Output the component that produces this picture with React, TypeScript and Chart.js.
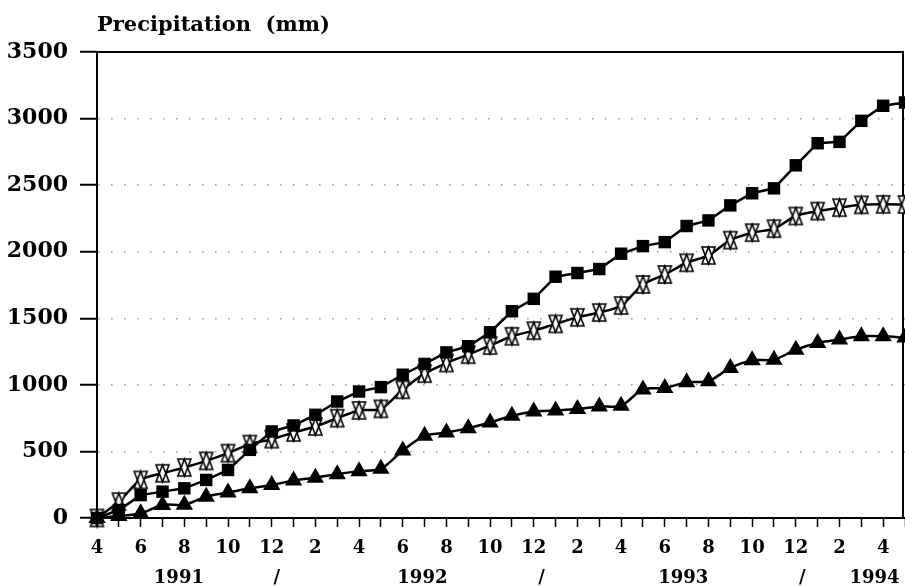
import React, { useEffect, useRef } from "react";
import { Chart, registerables } from "chart.js";

Chart.register(...registerables);

// Month of each observation, April 1991 through May 1994
const monthLabels = [
  "4", "5", "6", "7", "8", "9", "10", "11", "12", "1", "2", "3",
  "4", "5", "6", "7", "8", "9", "10", "11", "12", "1", "2", "3",
  "4", "5", "6", "7", "8", "9", "10", "11", "12", "1", "2", "3",
  "4", "5",
];

// Cumulative precipitation (mm)
const seriesSquares = [
  0, 60, 172, 198, 223, 286, 361, 512, 650, 695, 775, 875,
  950, 983, 1076, 1157, 1244, 1290, 1395, 1553, 1646, 1812, 1840, 1870,
  1985, 2042, 2072, 2193, 2235, 2348, 2439, 2476, 2649, 2815, 2825, 2983,
  3096, 3121,
];
const seriesHourglass = [
  0, 123, 286, 336, 379, 429, 487, 555, 592, 642, 687, 750,
  808, 820, 963, 1084, 1164, 1227, 1295, 1365, 1407, 1458, 1507, 1543,
  1596, 1754, 1829, 1917, 1972, 2087, 2143, 2173, 2268, 2305, 2331, 2352,
  2356, 2355,
];
const seriesTriangles = [
  0, 15, 35, 98, 100, 160, 191, 223, 248, 281, 303, 329,
  352, 370, 507, 617, 642, 675, 717, 768, 800, 808, 818, 838,
  843, 966, 976, 1020, 1028, 1127, 1184, 1189, 1264, 1315, 1340, 1365,
  1365, 1355,
];

const yTicks = [0, 500, 1000, 1500, 2000, 2500, 3000, 3500];
const yearLabels = ["1991", "/", "1992", "/", "1993", "/", "1994"];
const yearLabelPos = [3.75, 8.23, 14.9, 20.36, 26.85, 32.3, 35.6];
const titleText = "Precipitation  (mm)";

const NUM_FONT = "'DejaVu Serif', 'Liberation Serif', serif";

function makeHourglass(w: number, h: number, lw: number): HTMLCanvasElement {
  const c = document.createElement("canvas");
  const pad = Math.ceil(lw);
  c.width = w + pad * 2;
  c.height = h + pad * 2;
  const g = c.getContext("2d")!;
  const x0 = pad;
  const y0 = pad;
  const down = () => {
    g.beginPath();
    g.moveTo(x0, y0);
    g.lineTo(x0 + w, y0);
    g.lineTo(x0 + w / 2, y0 + h);
    g.closePath();
  };
  const up = () => {
    g.beginPath();
    g.moveTo(x0, y0 + h);
    g.lineTo(x0 + w, y0 + h);
    g.lineTo(x0 + w / 2, y0);
    g.closePath();
  };
  g.fillStyle = "#ffffff";
  down();
  g.fill();
  up();
  g.fill();
  g.strokeStyle = "#000000";
  g.lineWidth = lw;
  g.lineJoin = "miter";
  down();
  g.stroke();
  up();
  g.stroke();
  return c;
}

const framePlugin = {
  id: "frameAndText",
  beforeDatasetsDraw(chart: any) {
    const { ctx, chartArea } = chart;
    ctx.save();
    ctx.strokeStyle = "#000";
    ctx.lineWidth = 2;
    ctx.beginPath();
    ctx.moveTo(chartArea.left, chartArea.top);
    ctx.lineTo(chartArea.right - 2, chartArea.top);
    ctx.lineTo(chartArea.right - 2, chartArea.bottom);
    ctx.stroke();
    ctx.restore();
  },
  afterDraw(chart: any) {
    const { ctx, chartArea } = chart;
    const xs = chart.scales.x;
    ctx.save();
    ctx.fillStyle = "#000";
    ctx.font = `bold 21px ${NUM_FONT}`;
    ctx.textAlign = "left";
    ctx.textBaseline = "alphabetic";
    ctx.fillText(titleText, chartArea.left, 31);
    ctx.font = `bold 18px ${NUM_FONT}`;
    ctx.textAlign = "center";
    ctx.textBaseline = "middle";
    yearLabels.forEach((t, i) => {
      ctx.fillText(t, xs.getPixelForValue(yearLabelPos[i]), 578);
    });
    ctx.restore();
  },
};

export default function App() {
  const ref = useRef<HTMLCanvasElement>(null);

  useEffect(() => {
    if (!ref.current) return;
    const hourglass = makeHourglass(13, 17, 1.6);
    const chart = new Chart(ref.current, {
      type: "line",
      data: {
        labels: monthLabels,
        datasets: [
          {
            data: seriesSquares,
            borderColor: "#000",
            backgroundColor: "#000",
            borderWidth: 2.5,
            pointStyle: "rect",
            pointRadius: 8.8,
            pointBorderWidth: 0,
            pointBackgroundColor: "#000",
            tension: 0,
            clip: false as any,
          },
          {
            data: seriesHourglass,
            borderColor: "#000",
            backgroundColor: "#fff",
            borderWidth: 2.5,
            pointStyle: hourglass as any,
            pointRadius: 8,
            tension: 0.3,
            clip: false as any,
          },
          {
            data: seriesTriangles,
            borderColor: "#000",
            backgroundColor: "#000",
            borderWidth: 2.5,
            pointStyle: "triangle",
            pointRadius: 10,
            pointBorderWidth: 0,
            pointBackgroundColor: "#000",
            tension: 0.3,
            clip: false as any,
          },
        ],
      },
      options: {
        animation: false,
        responsive: false,
        layout: { autoPadding: false, padding: { top: 52, right: 0, left: 0, bottom: 0 } },
        plugins: {
          legend: { display: false },
          tooltip: { enabled: false },
          title: { display: false },
        },
        scales: {
          x: {
            type: "category",
            offset: false,
            grid: {
              display: true,
              drawOnChartArea: false,
              drawTicks: true,
              tickLength: 9,
              tickColor: "#000",
              tickWidth: 1.5,
            },
            border: { display: true, color: "#000", width: 2 },
            ticks: {
              autoSkip: false,
              maxRotation: 0,
              minRotation: 0,
              padding: 11,
              color: "#000",
              font: { family: NUM_FONT, size: 18, weight: "bold" },
              callback: (_v: any, i: number) => (i % 2 === 0 ? monthLabels[i] : ""),
            },
            afterFit: (s: any) => {
              s.height = 68;
              s.paddingLeft = 0;
              s.paddingRight = 0;
            },
          },
          y: {
            type: "linear",
            min: yTicks[0],
            max: yTicks[yTicks.length - 1],
            afterBuildTicks: (s: any) => {
              s.ticks = yTicks.map((v) => ({ value: v }));
            },
            grid: {
              display: true,
              drawOnChartArea: true,
              drawTicks: true,
              tickLength: 17,
              tickColor: "#000",
              tickWidth: 2,
              lineWidth: 1.5,
              color: (c: any) =>
                c.tick && (c.tick.value === 0 || c.tick.value === 3500)
                  ? "rgba(0,0,0,0)"
                  : "#9a9a9a",
            },
            border: { display: true, color: "#000", width: 2, dash: [1.5, 11.5] },
            ticks: {
              padding: 12,
              color: "#000",
              font: { family: NUM_FONT, size: 22, weight: "bold" },
              callback: (v: any) => String(v),
            },
            afterFit: (s: any) => {
              s.width = 97;
              s.paddingTop = 0;
              s.paddingBottom = 0;
            },
          },
        },
      },
      plugins: [framePlugin],
    });
    return () => chart.destroy();
  }, []);

  return (
    <div style={{ position: "absolute", left: 0, top: 0, width: 905, height: 586, background: "#fff" }}>
      <canvas ref={ref} width={905} height={586} />
    </div>
  );
}
